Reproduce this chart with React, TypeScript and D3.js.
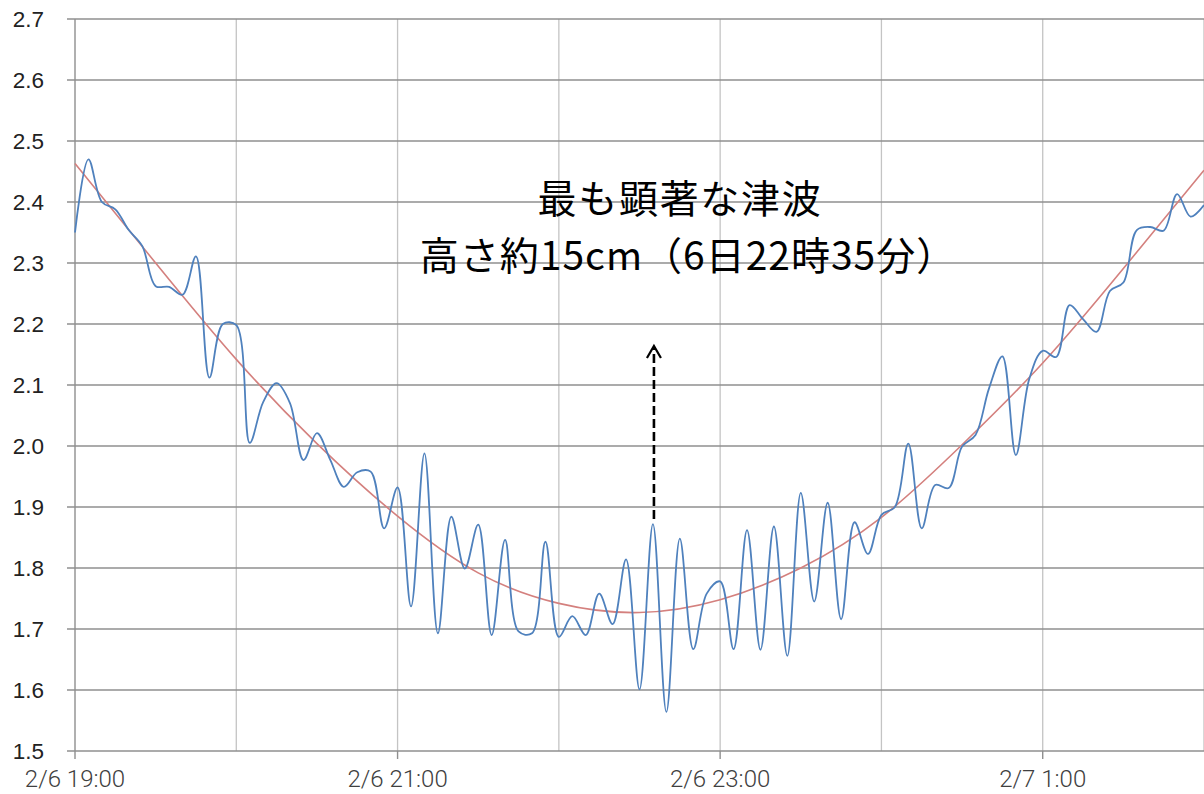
import React from "react";
import * as d3 from "d3";

// Observed water level (m), every 5 minutes from 2/6 19:00 to 2/7 2:00
const levels: number[] = [
  2.35, 2.47, 2.40, 2.388, 2.354, 2.328, 2.262, 2.261, 2.248, 2.311,
  2.112, 2.200, 2.198, 2.005, 2.072, 2.103, 2.070, 1.977, 2.021, 1.977,
  1.933, 1.957, 1.958, 1.865, 1.932, 1.737, 1.988, 1.693, 1.884, 1.799,
  1.871, 1.690, 1.846, 1.696, 1.693, 1.843, 1.687, 1.721, 1.690, 1.758,
  1.708, 1.814, 1.601, 1.872, 1.564, 1.848, 1.667, 1.758, 1.778, 1.667,
  1.862, 1.666, 1.868, 1.656, 1.923, 1.745, 1.907, 1.716, 1.875, 1.823,
  1.887, 1.900, 2.004, 1.865, 1.936, 1.931, 1.999, 2.018, 2.094, 2.147,
  1.985, 2.110, 2.156, 2.146, 2.231, 2.208, 2.187, 2.254, 2.268, 2.354,
  2.359, 2.353, 2.413, 2.376, 2.395,
];

// Tide trend (m), every 30 minutes from 2/6 19:00 to 2/7 2:00
const trend: number[] = [
  2.463, 2.300, 2.142, 2.004, 1.885, 1.792, 1.742, 1.727,
  1.748, 1.800, 1.883, 2.002, 2.136, 2.291, 2.452,
];

const yTicks: number[] = [1.5, 1.6, 1.7, 1.8, 1.9, 2.0, 2.1, 2.2, 2.3, 2.4, 2.5, 2.6, 2.7];
const xTickLabels: string[] = ["2/6 19:00", "2/6 21:00", "2/6 23:00", "2/7 1:00"];
const annotationLines: string[] = ["最も顕著な津波", "高さ約15cm（6日22時35分）"];

const start = new Date(2013, 1, 6, 19, 0);
const end = new Date(2013, 1, 7, 2, 0);
const peakTime = new Date(2013, 1, 6, 22, 35);

export default function App() {
  const W = 1204;
  const H = 794;
  const left = 75;
  const right = 1204;
  const top = 19;
  const bottom = 751;

  const x = d3.scaleTime().domain([start, end]).range([left, right]);
  const y = d3.scaleLinear().domain([1.5, 2.7]).range([bottom, top]);

  const levelPts: [Date, number][] = levels.map((v, i) => [d3.timeMinute.offset(start, i * 5), v]);
  const trendPts: [Date, number][] = trend.map((v, i) => [d3.timeMinute.offset(start, i * 30), v]);

  const blueLine = d3
    .line<[Date, number]>()
    .x((d) => x(d[0]))
    .y((d) => y(d[1]))
    .curve(d3.curveCatmullRom.alpha(0.5));
  const redLine = d3
    .line<[Date, number]>()
    .x((d) => x(d[0]))
    .y((d) => y(d[1]))
    .curve(d3.curveNatural);

  const hourTicks = d3.timeHour.range(start, d3.timeHour.offset(end, 1));
  const labelTicks = hourTicks.filter((_, i) => i % 2 === 0).slice(0, xTickLabels.length);

  const ax = x(peakTime) + 1;
  const annX = [680, 688];
  const annY = [213, 270];
  const annSpacing = [1.7, 1.0];

  return (
    <svg
      width={W}
      height={H}
      style={{ position: "absolute", left: 0, top: 0, background: "#fff" }}
      xmlns="http://www.w3.org/2000/svg"
    >
      {/* vertical gridlines */}
      {hourTicks.slice(1).map((t, i) => (
        <line key={"v" + i} x1={x(t)} x2={x(t)} y1={top} y2={bottom} stroke="#c4c4c4" strokeWidth={1.3} />
      ))}
      {/* horizontal gridlines */}
      {yTicks.map((v) => (
        <line key={"h" + v} x1={left - 8} x2={right} y1={y(v)} y2={y(v)} stroke="#8f8f8f" strokeWidth={1.4} />
      ))}
      {/* y axis line */}
      <line x1={left} x2={left} y1={top} y2={bottom} stroke="#8f8f8f" strokeWidth={1.4} />
      {/* x ticks */}
      {labelTicks.map((t, i) => (
        <line key={"xt" + i} x1={x(t)} x2={x(t)} y1={bottom} y2={bottom + 8} stroke="#8f8f8f" strokeWidth={1.4} />
      ))}
      {/* y labels */}
      {yTicks.map((v) => (
        <text
          key={"yl" + v}
          x={44}
          y={y(v)}
          dy="0.35em"
          textAnchor="end"
          fontFamily="'Liberation Sans', Arial, sans-serif"
          fontSize={22.5}
          fill="#222"
        >
          {v.toFixed(1)}
        </text>
      ))}
      {/* x labels */}
      {labelTicks.map((t, i) => (
        <text
          key={"xl" + i}
          x={x(t)}
          y={787}
          textAnchor="middle"
          fontFamily="Roboto, 'Liberation Sans', sans-serif"
          fontWeight={300}
          fontSize={24}
          fill="#404040"
        >
          {xTickLabels[i]}
        </text>
      ))}
      {/* trend */}
      <path d={redLine(trendPts) || ""} fill="none" stroke="#d4807e" strokeWidth={1.6} />
      {/* observed */}
      <path d={blueLine(levelPts) || ""} fill="none" stroke="#4f81bd" strokeWidth={1.8} strokeLinejoin="round" />
      {/* arrow */}
      <line x1={ax} x2={ax} y1={519} y2={348} stroke="#000" strokeWidth={2.6} strokeDasharray="9,4" />
      <polyline
        points={`${ax - 7},${358} ${ax},${346} ${ax + 7},${358}`}
        fill="none"
        stroke="#000"
        strokeWidth={2.2}
      />
      {/* annotation */}
      {annotationLines.map((s, i) => (
        <text
          key={"an" + i}
          x={annX[i]}
          y={annY[i]}
          textAnchor="middle"
          fontFamily="'Noto Sans CJK JP', sans-serif"
          fontSize={39}
          letterSpacing={annSpacing[i]}
          fill="#000"
        >
          {s}
        </text>
      ))}
    </svg>
  );
}
